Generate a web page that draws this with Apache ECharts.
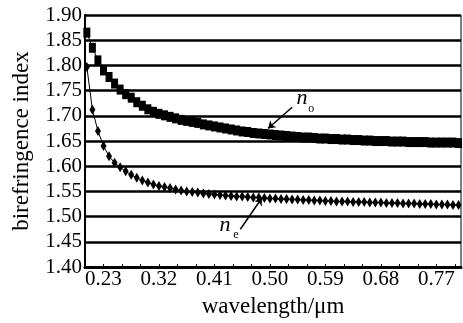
<!DOCTYPE html>
<html>
<head>
<meta charset="utf-8">
<script src="https://cdn.jsdelivr.net/npm/echarts@6/dist/echarts.min.js"></script>
<style>
  html, body { margin: 0; padding: 0; background: #fff; }
  #chart { width: 463px; height: 323px; }
</style>
</head>
<body>
<div id="chart"></div>
<script>
// wavelength samples (um)
const wavelength = [
  0.203, 0.212, 0.221, 0.230, 0.239, 0.248, 0.257, 0.266, 0.275, 0.284,
  0.293, 0.302, 0.311, 0.320, 0.329, 0.338, 0.347, 0.356, 0.365, 0.374,
  0.383, 0.392, 0.401, 0.410, 0.419, 0.428, 0.437, 0.446, 0.455, 0.464,
  0.473, 0.482, 0.491, 0.500, 0.509, 0.518, 0.527, 0.536, 0.545, 0.554,
  0.563, 0.572, 0.581, 0.590, 0.599, 0.608, 0.617, 0.626, 0.635, 0.644,
  0.653, 0.662, 0.671, 0.680, 0.689, 0.698, 0.707, 0.716, 0.725, 0.734,
  0.743, 0.752, 0.761, 0.770, 0.779, 0.788, 0.797, 0.806
];

// ordinary index n_o (squares)
const nO = [
  1.865, 1.835, 1.810, 1.790, 1.777, 1.764, 1.752, 1.743, 1.736, 1.727,
  1.720, 1.713, 1.708, 1.704, 1.701, 1.698, 1.695, 1.692, 1.690, 1.688,
  1.686, 1.683, 1.681, 1.679, 1.677, 1.675, 1.673, 1.671, 1.669, 1.668,
  1.666, 1.665, 1.664, 1.663, 1.662, 1.661, 1.660, 1.659, 1.658, 1.657,
  1.657, 1.656, 1.655, 1.655, 1.654, 1.654, 1.653, 1.653, 1.652, 1.652,
  1.651, 1.651, 1.650, 1.650, 1.650, 1.649, 1.649, 1.649, 1.648, 1.648,
  1.648, 1.648, 1.647, 1.647, 1.647, 1.647, 1.647, 1.646
];

// extraordinary index n_e (diamonds)
const nE = [
  1.797, 1.712, 1.670, 1.640, 1.620, 1.607, 1.598, 1.590, 1.583, 1.577,
  1.572, 1.568, 1.564, 1.561, 1.559, 1.557, 1.554, 1.552, 1.550, 1.549,
  1.548, 1.546, 1.545, 1.544, 1.543, 1.542, 1.541, 1.540, 1.540, 1.539,
  1.538, 1.538, 1.537, 1.536, 1.536, 1.535, 1.535, 1.534, 1.534, 1.533,
  1.533, 1.532, 1.532, 1.531, 1.531, 1.530, 1.530, 1.530, 1.529, 1.529,
  1.529, 1.528, 1.528, 1.528, 1.527, 1.527, 1.527, 1.526, 1.526, 1.526,
  1.525, 1.525, 1.525, 1.524, 1.524, 1.524, 1.523, 1.523
];

// axis labels
const xLabels = [0.23, 0.32, 0.41, 0.50, 0.59, 0.68, 0.77];
const xTicks = [0.20, 0.23, 0.26, 0.29, 0.32, 0.35, 0.38, 0.41, 0.44, 0.47, 0.50,
  0.53, 0.56, 0.59, 0.62, 0.65, 0.68, 0.71, 0.74, 0.77, 0.80];

const FONT = 'Liberation Serif';

const chart = echarts.init(document.getElementById('chart'), null, { renderer: 'canvas' });

const pairs = (ys) => wavelength.map((x, i) => [x, ys[i]]);

const textPoint = (coord, text, size, italic) => ({
  coord: coord,
  symbol: 'circle',
  symbolSize: 0,
  label: {
    show: true,
    position: 'inside',
    formatter: text,
    color: '#000',
    fontFamily: FONT,
    fontSize: size,
    fontStyle: italic ? 'italic' : 'normal'
  }
});

const arrow = (from, to) => [
  { coord: from, symbol: 'none' },
  { coord: to, symbol: 'arrow', symbolSize: 7 }
];

chart.setOption({
  backgroundColor: '#fff',
  animation: false,
  grid: { left: 85, right: 2, top: 15, bottom: 48 },
  xAxis: {
    type: 'value',
    min: 0.2,
    max: 0.81,
    name: 'wavelength/\u03bcm',
    nameLocation: 'middle',
    nameGap: 19,
    nameTextStyle: { fontFamily: FONT, fontSize: 23, color: '#000' },
    axisLine: { show: true, lineStyle: { color: '#000', width: 3 } },
    axisTick: { show: true, inside: true, length: 3, customValues: xTicks, lineStyle: { color: '#000' } },
    axisLabel: {
      customValues: xLabels,
      formatter: (v) => v.toFixed(2),
      fontFamily: FONT, fontSize: 21, color: '#000', margin: 2
    },
    splitLine: { show: false }
  },
  yAxis: {
    type: 'value',
    min: 1.4,
    max: 1.9,
    interval: 0.05,
    name: 'birefringence index',
    nameLocation: 'middle',
    nameGap: 52,
    nameTextStyle: { fontFamily: FONT, fontSize: 23, color: '#000' },
    axisLine: { show: true, lineStyle: { color: '#000', width: 2 } },
    axisTick: { show: false },
    axisLabel: {
      formatter: (v) => v.toFixed(2),
      fontFamily: FONT, fontSize: 21, color: '#000', margin: 3
    },
    splitLine: { show: true, lineStyle: { color: '#000', width: 2.5 } }
  },
  graphic: [],
  series: [
    {
      name: 'n_o',
      type: 'line',
      data: pairs(nO),
      symbol: 'rect',
      symbolSize: [7, 10],
      itemStyle: { color: '#000' },
      lineStyle: { color: '#000', width: 1 },
      markLine: {
        silent: true,
        lineStyle: { color: '#000', width: 1.5, type: 'solid' },
        label: { show: false },
        data: [arrow([0.536, 1.717], [0.497, 1.675])]
      },
      markPoint: {
        silent: true,
        data: [
          textPoint([0.552, 1.735], 'n', 22, true),
          textPoint([0.567, 1.713], 'o', 12, false)
        ]
      }
    },
    {
      name: 'n_e',
      type: 'line',
      data: pairs(nE),
      symbol: 'diamond',
      symbolSize: [6, 10],
      itemStyle: { color: '#000' },
      lineStyle: { color: '#000', width: 1 },
      markLine: {
        silent: true,
        lineStyle: { color: '#000', width: 1.5, type: 'solid' },
        label: { show: false },
        data: [arrow([0.452, 1.475], [0.487, 1.537])]
      },
      markPoint: {
        silent: true,
        data: [
          textPoint([0.427, 1.483], 'n', 22, true),
          textPoint([0.445, 1.463], 'e', 12, false)
        ]
      }
    }
  ]
});

// thin right border of the plot frame
const rect = chart.getModel().getComponent('grid').coordinateSystem.getRect();
chart.setOption({
  graphic: [{
    type: 'line',
    silent: true,
    shape: { x1: rect.x + rect.width, y1: rect.y, x2: rect.x + rect.width, y2: rect.y + rect.height },
    style: { stroke: '#000', lineWidth: 1 }
  }]
});
</script>
</body>
</html>
